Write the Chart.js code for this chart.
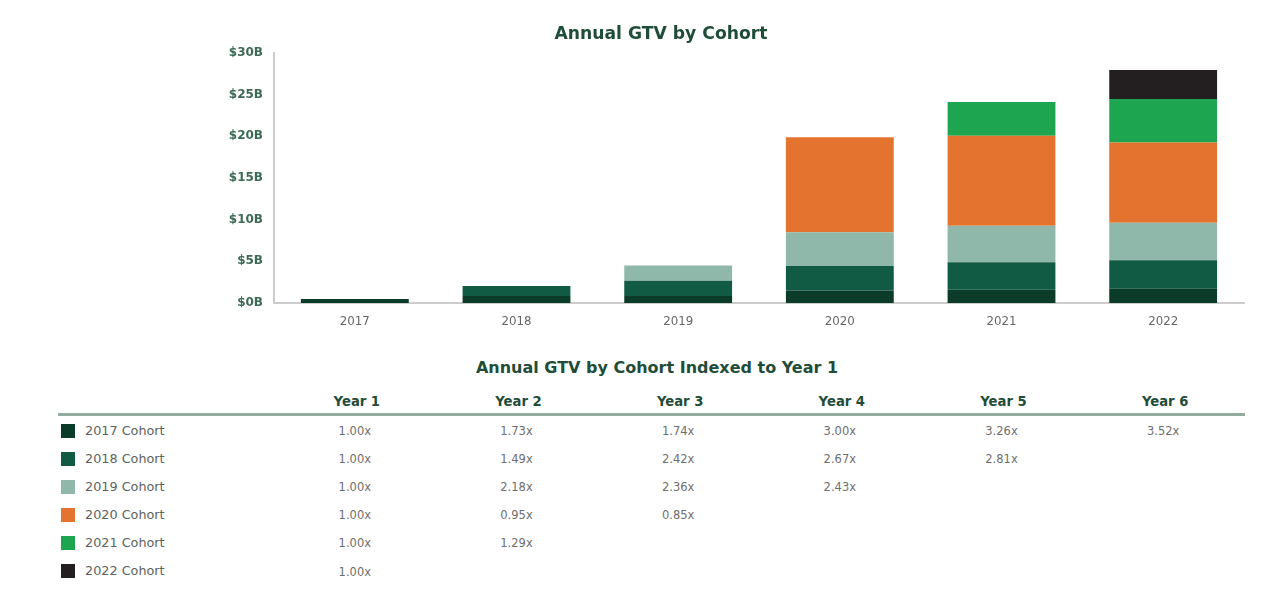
<!DOCTYPE html>
<html>
<head>
<meta charset="utf-8">
<script src="https://cdn.jsdelivr.net/npm/chart.js@4.4.1/dist/chart.umd.min.js"></script>
<style>
  html, body { margin: 0; padding: 0; background: #ffffff; }
  body { width: 1280px; height: 592px; position: relative; overflow: hidden; font-family: "DejaVu Sans", sans-serif; }
  #chartBox { position: absolute; left: 0; top: 0; width: 1280px; height: 340px; }
  #table { position: absolute; left: 0; top: 340px; width: 1280px; height: 252px; }
  .c-title { position: absolute; left: 361px; width: 600px; top: 22px; text-align: center; font-weight: 700; font-size: 17.2px; line-height: 22px; color: #1f4d3a; }
  .t-title { position: absolute; left: 357px; width: 600px; top: 17px; text-align: center; font-weight: 700; font-size: 16px; line-height: 22px; color: #1f4d3a; }
  .hdr { position: absolute; top: 53px; width: 120px; margin-left: -60px; text-align: center; font-weight: 700; font-size: 13.2px; line-height: 18px; color: #1f4d3a; }
  .rule { position: absolute; left: 58px; width: 1187px; top: 73px; height: 3px; background: #94ab9f; }
  .swatch { position: absolute; left: 61px; width: 14px; height: 14px; }
  .rlabel { position: absolute; left: 85px; font-size: 12.8px; line-height: 16px; color: #5b635f; }
  .val { position: absolute; width: 80px; margin-left: -40px; text-align: center; font-size: 11.5px; line-height: 16px; color: #6e6e6e; }
</style>
</head>
<body>
<div id="chartBox"><canvas id="c"></canvas></div>
<div class="c-title">Annual GTV by Cohort</div>
<div id="table"></div>
<script>
// ---- data ----
const years = ["2017", "2018", "2019", "2020", "2021", "2022"];
const cohortNames = ["2017 Cohort", "2018 Cohort", "2019 Cohort", "2020 Cohort", "2021 Cohort", "2022 Cohort"];
// GTV in $B per calendar year, by cohort
const gtv2017 = [0.48, 0.84, 0.84, 1.50, 1.58, 1.70];
const gtv2018 = [null, 1.20, 1.82, 2.95, 3.30, 3.42];
const gtv2019 = [null, null, 1.85, 4.05, 4.40, 4.50];
const gtv2020 = [null, null, null, 11.40, 10.80, 9.65];
const gtv2021 = [null, null, null, null, 4.05, 5.20];
const gtv2022 = [null, null, null, null, null, 3.50];
const yTickValues = [0, 5, 10, 15, 20, 25, 30];
const yearHeaders = ["Year 1", "Year 2", "Year 3", "Year 4", "Year 5", "Year 6"];
// GTV indexed to year 1
const index2017 = [1.00, 1.73, 1.74, 3.00, 3.26, 3.52];
const index2018 = [1.00, 1.49, 2.42, 2.67, 2.81];
const index2019 = [1.00, 2.18, 2.36, 2.43];
const index2020 = [1.00, 0.95, 0.85];
const index2021 = [1.00, 1.29];
const index2022 = [1.00];

const colors = ["#0b3b29", "#115b44", "#8fb8aa", "#e4732f", "#1ea54f", "#231f20"];
const gtvSeries = [gtv2017, gtv2018, gtv2019, gtv2020, gtv2021, gtv2022];
const indexRows = [index2017, index2018, index2019, index2020, index2021, index2022];

const datasets = gtvSeries.map((d, i) => ({
  label: cohortNames[i],
  data: d,
  backgroundColor: colors[i],
  borderWidth: 0,
  barPercentage: 0.667,
  categoryPercentage: 1.0
}));

function buildTable(chart) {
  const xs = chart.scales.x;
  const t = document.getElementById('table');
  let html = '<div class="t-title">Annual GTV by Cohort Indexed to Year 1</div>';
  yearHeaders.forEach((h, i) => {
    html += `<div class="hdr" style="left:${xs.getPixelForValue(i) + 2}px">${h}</div>`;
  });
  html += '<div class="rule"></div>';
  const rowTop = 90.5, rowStep = 28.1;
  indexRows.forEach((row, r) => {
    const cy = rowTop + r * rowStep;
    html += `<div class="swatch" style="top:${cy - 7}px;background:${colors[r]}"></div>`;
    html += `<div class="rlabel" style="top:${cy - 8}px">${cohortNames[r]}</div>`;
    row.forEach((v, i) => {
      html += `<div class="val" style="top:${cy - 7.5}px;left:${xs.getPixelForValue(i)}px">${v.toFixed(2)}x</div>`;
    });
  });
  t.innerHTML = html;
}

const chart = new Chart(document.getElementById('c'), {
  type: 'bar',
  data: { labels: years, datasets },
  options: {
    responsive: true,
    maintainAspectRatio: false,
    animation: false,
    layout: { padding: { left: 0, right: 36, top: 53, bottom: 0 } },
    plugins: {
      legend: { display: false },
      tooltip: { enabled: false },
      title: { display: false }
    },
    scales: {
      x: {
        stacked: true,
        grid: { display: false, drawTicks: false },
        border: { display: true, color: '#cccccc', width: 2 },
        ticks: { color: '#666666', padding: 12, font: { family: 'DejaVu Sans', size: 11.8 } },
        afterFit: s => { s.height = 37; }
      },
      y: {
        stacked: true,
        min: 0, max: 30,
        afterBuildTicks: s => { s.ticks = yTickValues.map(v => ({ value: v })); },
        grid: { display: false, drawTicks: false },
        border: { display: true, color: '#cccccc', width: 2 },
        ticks: {
          color: '#3c6a56', padding: 11,
          font: { family: 'DejaVu Sans', size: 12, weight: 'bold' },
          callback: v => '$' + v + 'B'
        },
        afterFit: s => { s.width = 274; }
      }
    }
  }
});
buildTable(chart);
</script>
</body>
</html>
